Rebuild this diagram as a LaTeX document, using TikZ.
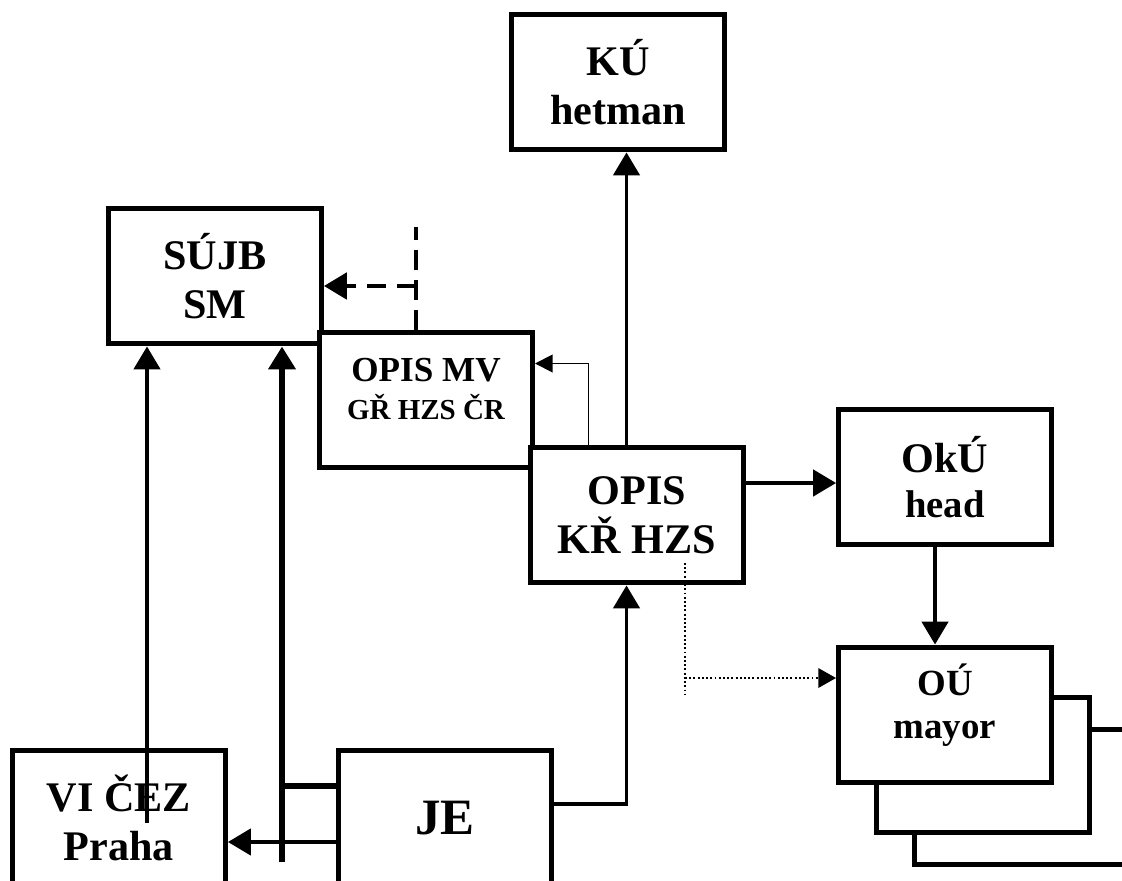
\documentclass[tikz,border=0pt]{standalone}
\usepackage{fontspec}
\setmainfont{Liberation Serif}
\usetikzlibrary{positioning, arrows.meta}

\begin{document}
\begin{tikzpicture}[
            x=0.02cm, y=-0.02cm,
            >={Triangle[length=13pt,width=15pt]},
            office/.style={draw, line width=2.85pt, fill=white, minimum width=4.26cm, minimum height=2.72cm, align=center, font=\bfseries\fontsize{24}{28}\selectfont},
            link/.style={line width=1.8pt},
            mainlink/.style={line width=3.4pt},
            thinlink/.style={line width=1.1pt},
            dashlink/.style={line width=2.2pt, dash pattern=on 11pt off 6pt},
            dotlink/.style={line width=1.1pt, dash pattern=on 1.1pt off 1.3pt},
            smalltip/.style={-{Triangle[length=10pt,width=10pt]}},
        ]
        \useasboundingbox (0,0) rectangle (1122,881);

        % Draw the offices
        \node[office] (ku) at (618,82) {KÚ\\hetman};
        \node[office] (sujb) at (215,276) {SÚJB\\SM};
        \node[office, text depth=0.45cm, font=\bfseries\fontsize{20}{22}\selectfont] (mv) at (426,400) {OPIS MV\\{\fontsize{16.5}{18}\selectfont GŘ HZS ČR}};
        \node[office] (kr) at (637,515) {OPIS\\KŘ HZS};
        \node[office, font=\bfseries\fontsize{24}{26}\selectfont] (oku) at (945,477) {OkÚ\\{\fontsize{22}{24}\selectfont head}};

        % Draw the stack of municipal offices
        \foreach \name / \x / \y in {3/1021/797, 2/983/765}
        \node[office] (ou-\name) at (\x,\y) {};
        \node[office, text depth=0.55cm, font=\bfseries\fontsize{21}{24}\selectfont] (ou-1) at (945,715) {OÚ\\mayor};

        \node[office] (vi) at (119,818) {VI ČEZ\\Praha};
        \node[office, font=\bfseries\fontsize{29}{32}\selectfont] (je) at (445,818) {JE};

        % Free ends of the connectors
        \coordinate (vi-start) at (147,823);
        \coordinate (bus-foot) at (282,862);
        \coordinate (je-bus) at ([yshift=0.64cm]je.west);
        \coordinate (je-low) at ([yshift=-0.48cm]je.west);
        \coordinate (je-out) at ([yshift=0.28cm]je.east);
        \coordinate (kr-in) at ([xshift=-0.21cm]kr.south);
        \coordinate (kr-up) at ([xshift=-0.97cm]kr.north);
        \coordinate (kr-out) at ([yshift=0.64cm]kr.east);
        \coordinate (mv-in) at ([yshift=0.73cm]mv.east);
        \coordinate (mv-up) at ([xshift=-0.2cm]mv.north);
        \coordinate (sujb-in) at ([yshift=-0.2cm]sujb.east);
        \coordinate (oku-down) at ([xshift=-0.2cm]oku.south);
        \coordinate (ou-in) at ([yshift=0.74cm]ou-1.west);
        \coordinate (dot-top) at (685,563);
        \coordinate (dot-foot) at (685,695);

        % Connect the power plant with the state offices
        \draw[link, ->] (vi-start) -- (vi-start |- sujb.south);
        \draw[mainlink, ->] (bus-foot) -- (bus-foot |- sujb.south);
        \draw[mainlink] (je-bus) -- (je-bus -| bus-foot);
        \draw[link, ->] (je-low) -- (je-low -| vi.east);
        \draw[link, ->] (je-out) -| (kr-in);

        % Connect the regional centre with the others
        \draw[link, ->] (kr-in |- kr.north) -- (kr-in |- ku.south);
        \draw[thinlink, smalltip] (kr-up) |- (mv-in);
        \draw[dashlink] (mv-up) -- (mv-up |- 0,227);
        \draw[dashlink, ->] (mv-up |- sujb-in) -- (sujb-in);
        \draw[link, ->] (kr-out) -- (kr-out -| oku.west);
        \draw[link, ->] (oku-down) -- (oku-down |- ou-1.north);
        \draw[dotlink] (dot-top) -- (dot-foot);
        \draw[dotlink, -{Triangle[length=10pt,width=11pt]}] (dot-top |- ou-in) -- (ou-in);
    \end{tikzpicture}
\end{document}
